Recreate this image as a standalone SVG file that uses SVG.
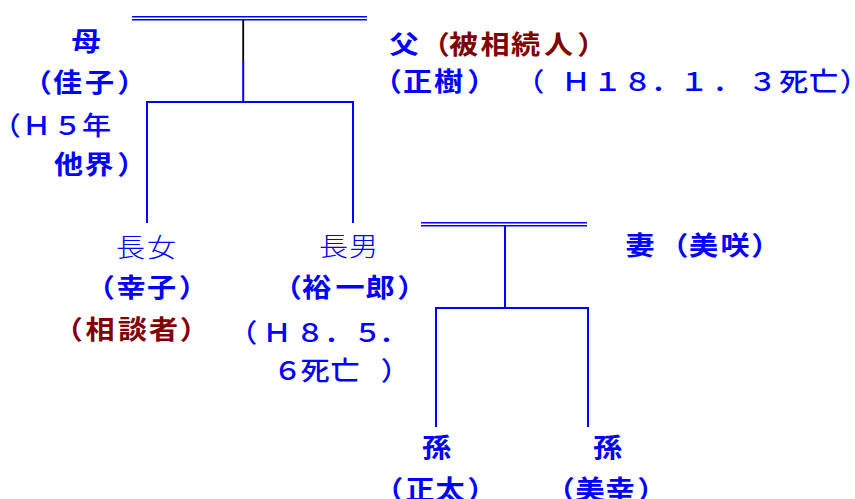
<svg xmlns="http://www.w3.org/2000/svg" width="855" height="499" viewBox="0 0 855 499">
<style>
.t{font-family:"Noto Sans CJK JP","Noto Sans",sans-serif;font-size:26px;text-anchor:middle;fill:#0000ff;font-weight:700}
.r{fill:#800000}
.m{font-weight:500}
.s{font-weight:300}
.ln{stroke:#0000ff;stroke-width:2;fill:none}
.dl{stroke:#0000ff;stroke-width:1.5;fill:none}
</style>
<rect width="855" height="499" fill="#ffffff"/>
<g id="connectors">
<line class="dl" x1="132" y1="16.7" x2="367" y2="16.7"/>
<line class="dl" x1="132" y1="19.7" x2="367" y2="19.7"/>
<line x1="243.2" y1="20" x2="243.2" y2="61" stroke="#000000" stroke-width="1.8"/>
<polyline class="ln" points="243.2,61 243.2,102"/>
<polyline class="ln" points="147,223 147,102 353,102 353,223"/>
<line class="dl" x1="421" y1="222.7" x2="587" y2="222.7"/>
<line class="dl" x1="421" y1="225.7" x2="587" y2="225.7"/>
<polyline class="ln" points="505,226 505,308"/>
<polyline class="ln" points="436,427 436,308 588,308 588,427"/>
</g>
<g id="mother" transform="scale(1.12,1)">
<text class="t" x="76.79" y="51.5">母</text>
<text class="t" x="33.30 60.27 88.84 117.68" y="92">（佳子）</text>
<text class="t m" x="5.63 32.59 60.27 86.16" y="135">（Ｈ５年</text>
<text class="t" x="61.16 88.39 117.68" y="174">他界）</text>
</g>
<g id="father" transform="scale(1.12,1)">
<text class="t" x="360.71" y="54">父</text>
<text class="t r" x="388.66 413.84 441.96 469.20 498.66 528.39" y="54">（被相続人）</text>
<text class="t" x="345.80 372.77 400.45 430.18" y="91">（正樹）</text>
<text class="t m" x="473.04 514.29 542.41 569.20 594.20 619.64 649.11 680.80 708.48 735.27 762.77" y="91">（Ｈ１８．１．３死亡）</text>
</g>
<g id="daughter" transform="scale(1.12,1)">
<text class="t s" x="116.52 144.20" y="257.5">長女</text>
<text class="t" x="89.55 116.96 144.20 172.59" y="297.5">（幸子）</text>
<text class="t r" x="60.98 89.29 118.30 145.98 173.48" y="339.5">（相談者）</text>
</g>
<g id="son" transform="scale(1.12,1)">
<text class="t s" x="297.77 324.55" y="256.5">長男</text>
<text class="t" x="256.52 282.59 312.50 339.29 367.68" y="297.5">（裕一郎）</text>
<text class="t m" x="216.79 247.32 276.79 302.23 328.13 351.34" y="342.5">（Ｈ８．５．</text>
<text class="t m" x="256.70 281.25 308.04 352.95" y="380">６死亡）</text>
</g>
<g id="wife" transform="scale(1.12,1)">
<text class="t" x="571.43 601.61 628.13 656.25 683.75" y="255.5">妻（美咲）</text>
</g>
<g id="grandson1" transform="scale(1.12,1)">
<text class="t" x="389.73" y="457.5">孫</text>
<text class="t" x="347.14 375.00 401.79 430.18" y="499.5">（正太）</text>
</g>
<g id="grandson2" transform="scale(1.12,1)">
<text class="t" x="542.41" y="457.5">孫</text>
<text class="t" x="500.27 526.79 553.57 581.96" y="499.5">（美幸）</text>
</g>
</svg>
